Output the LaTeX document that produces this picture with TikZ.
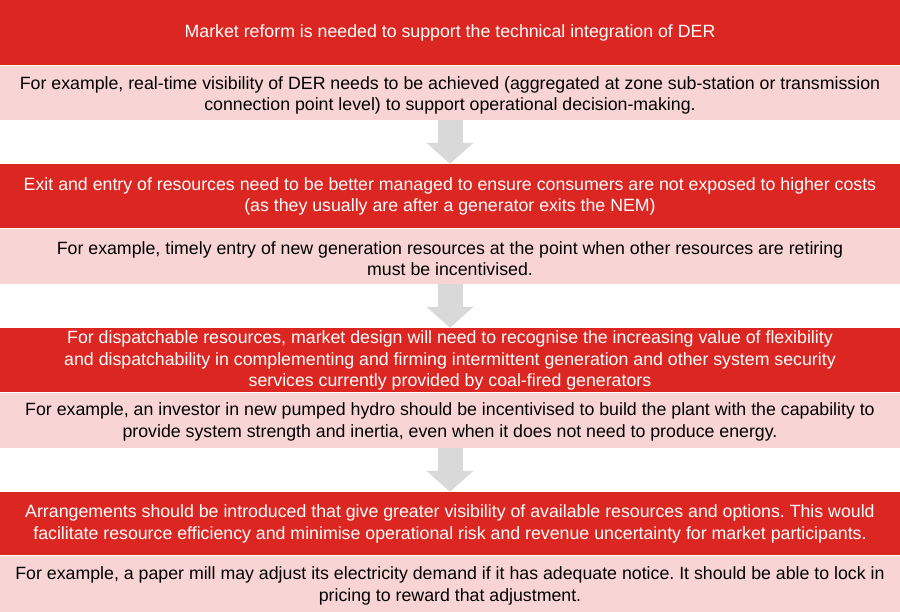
\documentclass[tikz,border=0pt]{standalone}
\usepackage{fontspec}
\setmainfont{Liberation Sans}
\frenchspacing
\usetikzlibrary{arrows.meta}
\definecolor{bandred}{HTML}{DC2622}
\definecolor{bandpink}{HTML}{F8D5D4}
\definecolor{arrowgrey}{HTML}{D9D9D9}
\tikzset{
  band/.style={rectangle, inner sep=0pt, minimum width=900pt},
  redband/.style={band, fill=bandred},
  pinkband/.style={band, fill=bandpink},
  bandtext/.style={inner sep=0pt, align=center,
    font=\fontsize{17.75}{21.5}\selectfont},
  redtext/.style={bandtext, text=white},
  pinktext/.style={bandtext, text=black},
  flowarrow/.style={draw=arrowgrey, line width=25pt,
    -{Triangle[width=46pt,length=21pt,fill=arrowgrey]}}
}
\begin{document}
\begin{tikzpicture}[x=1pt,y=-1pt]
\useasboundingbox[fill=white] (0,0) rectangle (900,612);
\node[redband, minimum height=65pt] (r1) at (450,32.5) {};
\node[pinkband, minimum height=54pt] (p1) at (450,93) {};
\node[redband, minimum height=64pt] (r2) at (450,196) {};
\node[pinkband, minimum height=55pt] (p2) at (450,256.5) {};
\node[redband, minimum height=64pt] (r3) at (450,360) {};
\node[pinkband, minimum height=55pt] (p3) at (450,420.5) {};
\node[redband, minimum height=63pt] (r4) at (450,523.5) {};
\node[pinkband, minimum height=56pt] (p4) at (450,584) {};
\node[redtext] (tr1) at ([yshift=-0.5pt]r1.center)
  {Market reform is needed to support the technical integration of DER};
\node[pinktext] (tp1) at ([yshift=-2.5pt]p1.center)
  {For example, real-time visibility of DER needs to be achieved (aggregated at zone sub-station or transmission\\connection point level) to support operational decision-making.};
\node[redtext] (tr2) at ([yshift=-0.5pt]r2.center)
  {Exit and entry of resources need to be better managed to ensure consumers are not exposed to higher costs\\(as they usually are after a generator exits the NEM)};
\node[pinktext] (tp2) at ([yshift=-2pt]p2.center)
  {For example, timely entry of new generation resources at the point when other resources are retiring\\must be incentivised.};
\node[redtext] (tr3) at ([yshift=-0.5pt]r3.center)
  {For dispatchable resources, market design will need to recognise the increasing value of flexibility\\and dispatchability in complementing and firming intermittent generation and other system security\\services currently provided by coal-fired generators};
\node[pinktext] (tp3) at ([yshift=-1.5pt]p3.center)
  {For example, an investor in new pumped hydro should be incentivised to build the plant with the capability to\\provide system strength and inertia, even when it does not need to produce energy.};
\node[redtext] (tr4) at ([yshift=-0.5pt]r4.center)
  {Arrangements should be introduced that give greater visibility of available resources and options. This would\\facilitate resource efficiency and minimise operational risk and revenue uncertainty for market participants.};
\node[pinktext] (tp4) at ([yshift=-2pt]p4.center)
  {For example, a paper mill may adjust its electricity demand if it has adequate notice. It should be able to lock in\\pricing to reward that adjustment.};
\draw[flowarrow] (p1.south) -- (r2.north);
\draw[flowarrow] (p2.south) -- (r3.north);
\draw[flowarrow] (p3.south) -- (r4.north);
\end{tikzpicture}
\end{document}
